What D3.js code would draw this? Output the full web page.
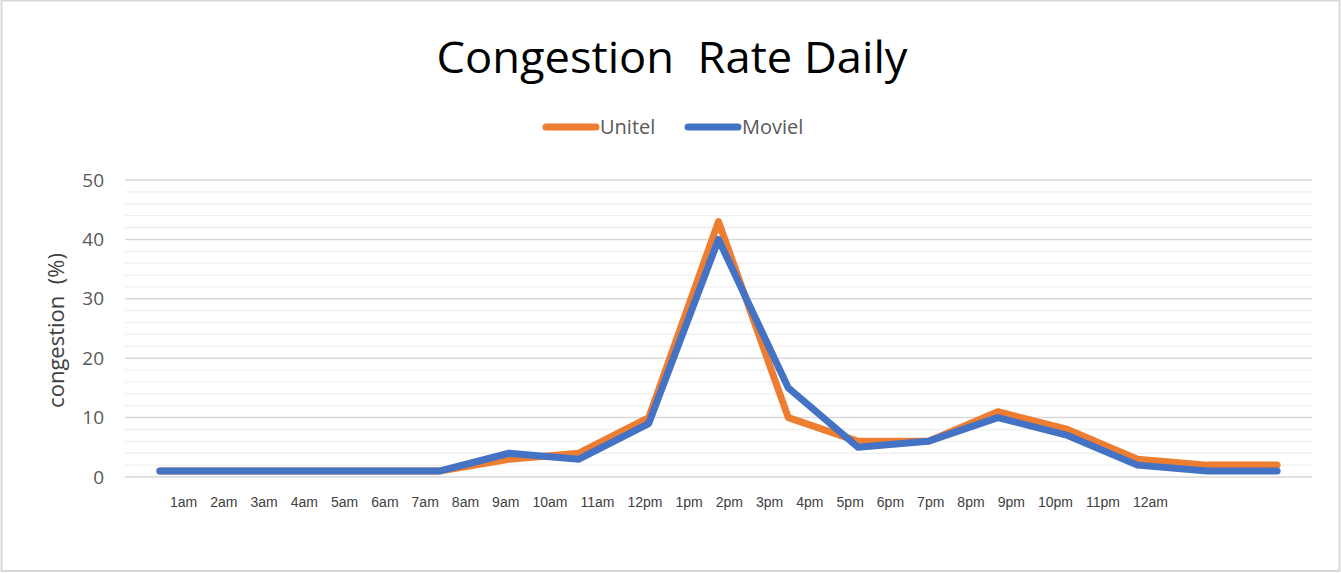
<!DOCTYPE html>
<html>
<head>
<meta charset="utf-8">
<script src="https://cdn.jsdelivr.net/npm/d3@7"></script>
<style>
  html, body { margin: 0; padding: 0; background: #fff; }
  svg { display: block; }
</style>
</head>
<body>
<div id="chart"></div>
<script>
// ---- data ----
const categories = ["p1","p2","p3","p4","p5","p6","p7","p8","p9","p10","p11","p12","p13","p14","p15","p16","p17"];
const unitel = [1, 1, 1, 1, 1, 3, 4, 10, 43, 10, 6, 6, 11, 8, 3, 2, 2];
const moviel = [1, 1, 1, 1, 1, 4, 3, 9, 40, 15, 5, 6, 10, 7, 2, 1, 1];
const hourLabels = ["1am","2am","3am","4am","5am","6am","7am","8am","9am","10am","11am","12pm",
                    "1pm","2pm","3pm","4pm","5pm","6pm","7pm","8pm","9pm","10pm","11pm","12am"];
const yTicks = [0, 10, 20, 30, 40, 50];
const yMinorTicks = [2, 4, 6, 8, 12, 14, 16, 18, 22, 24, 26, 28, 32, 34, 36, 38, 42, 44, 46, 48];
const seriesNames = ["Unitel", "Moviel"];
const seriesColors = ["#ED7D31", "#4472C4"];

// ---- layout ----
const W = 1341, H = 573;
const plot = { left: 125, right: 1312, top: 180, bottom: 477 };

const svg = d3.select("#chart").append("svg").attr("width", W).attr("height", H);

// chart border
svg.append("rect").attr("x", 1.5).attr("y", 0.5).attr("width", W - 3).attr("height", H - 2.5)
  .attr("fill", "#fff").attr("stroke", "#d9d9d9").attr("stroke-width", 2);

const x = d3.scalePoint().domain(categories).range([plot.left, plot.right]).padding(0.5);
const y = d3.scaleLinear().domain([0, 50]).range([plot.bottom, plot.top]);

// minor gridlines
svg.append("g").selectAll("line").data(yMinorTicks).join("line")
  .attr("x1", plot.left).attr("x2", plot.right)
  .attr("y1", d => y(d)).attr("y2", d => y(d))
  .attr("stroke", "#efefef").attr("stroke-width", 1.3);

// major gridlines
svg.append("g").selectAll("line").data(yTicks).join("line")
  .attr("x1", plot.left).attr("x2", plot.right)
  .attr("y1", d => y(d)).attr("y2", d => y(d))
  .attr("stroke", "#d9d9d9").attr("stroke-width", 1.5);

// y axis labels
const yAxis = d3.axisLeft(y).tickValues(yTicks).tickSize(0).tickPadding(0);
const gy = svg.append("g").attr("transform", `translate(${plot.left - 21},0)`).call(yAxis);
gy.select(".domain").remove();
gy.selectAll("text").attr("font-family", "'Open Sans', sans-serif")
  .attr("font-size", 19).attr("fill", "#595959");

// y title
svg.append("text")
  .attr("transform", `translate(64,${(plot.top + plot.bottom) / 2 + 2}) rotate(-90)`)
  .attr("text-anchor", "middle")
  .attr("font-family", "'Open Sans', sans-serif").attr("font-size", 22)
  .attr("fill", "#404040")
  .attr("xml:space", "preserve")
  .text("congestion  (%)");

// lines
const line = d3.line().x((d, i) => x(categories[i])).y(d => y(d));
[unitel, moviel].forEach((s, k) => {
  svg.append("path").datum(s).attr("d", line)
    .attr("fill", "none").attr("stroke", seriesColors[k]).attr("stroke-width", 7)
    .attr("stroke-linejoin", "round").attr("stroke-linecap", "round");
});

// hour labels row (separate text row under the plot)
const hourG = svg.append("g").attr("font-family", "'Liberation Sans', Arial, sans-serif")
  .attr("font-size", 14).attr("fill", "#404040");
const texts = hourG.selectAll("text").data(hourLabels).join("text")
  .attr("y", 507).text(d => d);
const widths = texts.nodes().map(n => n.getComputedTextLength());
const rowStart = 170, rowEnd = 1168;
const totalW = d3.sum(widths);
const gap = (rowEnd - rowStart - totalW) / (hourLabels.length - 1);
let cx = rowStart;
texts.attr("x", (d, i) => { const v = cx; cx += widths[i] + gap; return v; });

// title
svg.append("text").attr("x", 672).attr("y", 73).attr("text-anchor", "middle")
  .attr("font-family", "'Open Sans', sans-serif").attr("font-size", 43)
  .attr("fill", "#000")
  .attr("xml:space", "preserve")
  .attr("textLength", 471).attr("lengthAdjust", "spacingAndGlyphs")
  .text("Congestion  Rate Daily");

// legend
const legendItems = [
  { name: seriesNames[0], color: seriesColors[0], x1: 546, x2: 596, tx: 600 },
  { name: seriesNames[1], color: seriesColors[1], x1: 688, x2: 738, tx: 742 }
];
const lg = svg.append("g");
legendItems.forEach(it => {
  lg.append("line").attr("x1", it.x1).attr("x2", it.x2).attr("y1", 127).attr("y2", 127)
    .attr("stroke", it.color).attr("stroke-width", 7).attr("stroke-linecap", "round");
  lg.append("text").attr("x", it.tx).attr("y", 134)
    .attr("font-family", "'Open Sans', sans-serif").attr("font-size", 20)
    .attr("fill", "#595959").text(it.name);
});
</script>
</body>
</html>
